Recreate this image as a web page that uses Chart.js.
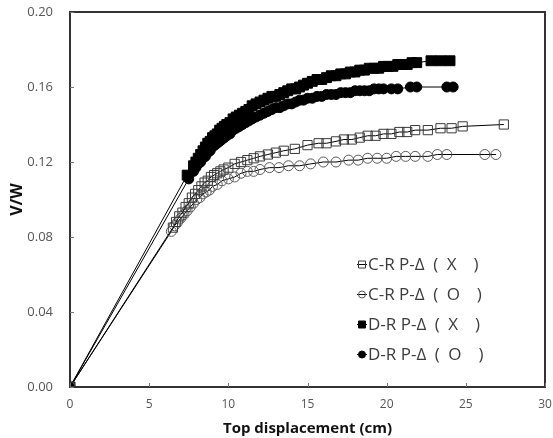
<!DOCTYPE html>
<html>
<head>
<meta charset="utf-8">
<script src="https://cdn.jsdelivr.net/npm/chart.js@4.4.0/dist/chart.umd.min.js"></script>
<style>
  html, body { margin: 0; padding: 0; background: #fff; }
  #wrap { width: 553px; height: 438px; position: relative; }
</style>
</head>
<body>
<div id="wrap"><canvas id="chart"></canvas></div>
<script>
// legend labels (en/em spaces mimic the wide spacing of the original)
var seriesNames = [
  'C-R P-Δ\u2002(\u2002X\u2003)',
  'C-R P-Δ\u2002(\u2002O\u2003)',
  'D-R P-Δ\u2002(\u2002X\u2003)',
  'D-R P-Δ\u2002(\u2002O\u2003)'
];

// axis ticks
var xTicks = [0, 5, 10, 15, 20, 25, 30];
var yTicks = [0.00, 0.04, 0.08, 0.12, 0.16, 0.20];

// C-R P-Δ (X) : open squares
var crXx = [0, 6.5, 6.7, 6.9, 7.1, 7.3, 7.5, 7.7, 7.9, 8.1, 8.3, 8.5, 8.7, 8.9, 9.1, 9.3, 9.5, 9.7, 10.0, 10.4,
  10.8, 11.2, 11.6, 12.0, 12.5, 13.0, 13.5, 14.2, 15.0, 15.7, 16.2, 16.8, 17.3, 17.8, 18.3, 18.8, 19.3, 19.8, 20.3, 20.8,
  21.3, 21.8, 22.6, 23.4, 24.1, 24.8, 27.4];
var crXy = [0, 0.085, 0.088, 0.091, 0.093, 0.096, 0.098, 0.101, 0.103, 0.105, 0.107, 0.109, 0.110, 0.112, 0.113, 0.114, 0.115, 0.116, 0.117, 0.119,
  0.120, 0.121, 0.122, 0.123, 0.124, 0.125, 0.126, 0.127, 0.129, 0.130, 0.130, 0.131, 0.132, 0.132, 0.133, 0.134, 0.134, 0.135, 0.135, 0.136,
  0.136, 0.137, 0.137, 0.138, 0.138, 0.139, 0.140];

// C-R P-Δ (O) : open circles
var crOx = [0, 6.4, 6.6, 6.8, 7.0, 7.2, 7.4, 7.6, 7.8, 8.0, 8.2, 8.4, 8.6, 8.8, 9.0, 9.3, 9.6, 10.0, 10.4, 10.8,
  11.2, 11.6, 12.0, 12.6, 13.2, 13.8, 14.5, 15.2, 16.0, 16.8, 17.6, 18.2, 18.8, 19.4, 20.0, 20.6, 21.2, 21.8, 22.6, 23.2,
  23.8, 26.2, 26.9];
var crOy = [0, 0.083, 0.086, 0.088, 0.090, 0.092, 0.094, 0.096, 0.098, 0.100, 0.101, 0.103, 0.104, 0.105, 0.107, 0.108, 0.110, 0.111, 0.112, 0.114,
  0.115, 0.115, 0.116, 0.117, 0.117, 0.118, 0.118, 0.119, 0.120, 0.120, 0.121, 0.121, 0.122, 0.122, 0.122, 0.123, 0.123, 0.123, 0.123, 0.124,
  0.124, 0.124, 0.124];

// D-R P-Δ (X) : filled squares
var drXx = [0, 7.4, 7.8, 7.95, 8.1, 8.25, 8.4, 8.55, 8.7, 8.85, 9.0, 9.15, 9.3, 9.45, 9.6, 9.75, 9.9, 10.1, 10.3, 10.5,
  10.7, 10.9, 11.1, 11.3, 11.5, 11.75, 12.0, 12.25, 12.5, 12.75, 13.0, 13.25, 13.5, 13.75, 14.0, 14.25, 14.5, 14.75, 15.0, 15.3,
  15.6, 15.9, 16.2, 16.5, 16.8, 17.1, 17.4, 17.7, 18.0, 18.3, 18.6, 18.9, 19.2, 19.5, 19.8, 20.1, 20.4, 20.7, 21.0, 21.3,
  21.6, 21.9, 22.8, 23.4, 24.0];
var drXy = [0, 0.113, 0.118, 0.120, 0.122, 0.124, 0.126, 0.128, 0.130, 0.131, 0.133, 0.134, 0.135, 0.137, 0.138, 0.139, 0.140, 0.141, 0.143, 0.144,
  0.145, 0.146, 0.147, 0.148, 0.150, 0.151, 0.152, 0.153, 0.154, 0.155, 0.155, 0.156, 0.157, 0.158, 0.159, 0.159, 0.160, 0.161, 0.162, 0.163,
  0.164, 0.164, 0.165, 0.166, 0.166, 0.167, 0.167, 0.168, 0.168, 0.169, 0.169, 0.170, 0.170, 0.170, 0.171, 0.171, 0.171, 0.172, 0.172, 0.172,
  0.173, 0.173, 0.174, 0.174, 0.174];

// D-R P-Δ (O) : filled circles
var drOx = [0, 7.5, 7.8, 7.95, 8.1, 8.25, 8.4, 8.55, 8.7, 8.85, 9.0, 9.15, 9.3, 9.45, 9.6, 9.75, 9.9, 10.1, 10.3, 10.5,
  10.7, 10.9, 11.1, 11.3, 11.5, 11.75, 12.0, 12.25, 12.5, 12.75, 13.0, 13.25, 13.5, 13.75, 14.0, 14.25, 14.5, 14.75, 15.0, 15.3,
  15.6, 15.9, 16.2, 16.5, 16.8, 17.1, 17.4, 17.7, 18.0, 18.3, 18.6, 18.9, 19.2, 19.5, 19.8, 20.3, 20.7, 21.5, 21.9, 23.8,
  24.2];
var drOy = [0, 0.111, 0.115, 0.117, 0.119, 0.120, 0.122, 0.123, 0.125, 0.126, 0.128, 0.129, 0.130, 0.131, 0.132, 0.133, 0.134, 0.135, 0.137, 0.138,
  0.139, 0.140, 0.141, 0.142, 0.143, 0.144, 0.145, 0.146, 0.147, 0.148, 0.149, 0.149, 0.150, 0.151, 0.151, 0.152, 0.153, 0.153, 0.154, 0.154,
  0.155, 0.155, 0.156, 0.156, 0.156, 0.157, 0.157, 0.157, 0.158, 0.158, 0.158, 0.158, 0.159, 0.159, 0.159, 0.159, 0.159, 0.160, 0.160, 0.160,
  0.160];

function toPoints(xs, ys) {
  return xs.map(function (x, i) { return { x: x, y: ys[i] }; });
}

var markers = [
  { style: 'rect', radius: 6.5, fill: 'rgba(0,0,0,0)', stroke: '#3a3a3a' },
  { style: 'circle', radius: 5, fill: 'rgba(0,0,0,0)', stroke: '#5a5a5a' },
  { style: 'rect', radius: 7, fill: '#000', stroke: '#000' },
  { style: 'circle', radius: 5, fill: '#000', stroke: '#000' }
];
var allX = [crXx, crOx, drXx, drOx];
var allY = [crXy, crOy, drXy, drOy];

var datasets = seriesNames.map(function (name, i) {
  return {
    label: name,
    data: toPoints(allX[i], allY[i]),
    showLine: true,
    borderColor: '#000',
    borderWidth: 1,
    pointStyle: markers[i].style,
    pointRadius: markers[i].radius,
    pointBorderWidth: 1,
    pointBackgroundColor: markers[i].fill,
    pointBorderColor: markers[i].stroke,
    tension: 0
  };
});

// frame, inside ticks and the legend placed in the plot
var framePlugin = {
  id: 'frame',
  afterDraw: function (chart) {
    var ctx = chart.ctx;
    var a = chart.chartArea;
    var xs = chart.scales.x, ys = chart.scales.y;
    ctx.save();
    ctx.strokeStyle = '#333';
    ctx.lineWidth = 2;
    ctx.strokeRect(a.left, a.top, a.right - a.left, a.bottom - a.top);
    ctx.lineWidth = 1;
    ctx.strokeStyle = '#777';
    xTicks.forEach(function (v) {
      var px = Math.round(xs.getPixelForValue(v)) + 0.5;
      ctx.beginPath(); ctx.moveTo(px, a.bottom); ctx.lineTo(px, a.bottom - 4); ctx.stroke();
    });
    yTicks.forEach(function (v) {
      var py = Math.round(ys.getPixelForValue(v)) + 0.5;
      ctx.beginPath(); ctx.moveTo(a.left, py); ctx.lineTo(a.left + 4, py); ctx.stroke();
    });

    // legend
    var lx = 362, ly = 264, step = 30;
    chart.data.datasets.forEach(function (ds, i) {
      var y = ly + i * step;
      var m = markers[i];
      ctx.strokeStyle = '#000';
      ctx.lineWidth = 1;
      ctx.beginPath(); ctx.moveTo(lx - 5, y + 0.5); ctx.lineTo(lx + 5, y + 0.5); ctx.stroke();
      ctx.fillStyle = m.fill;
      ctx.strokeStyle = m.stroke;
      ctx.beginPath();
      if (m.style === 'rect') {
        ctx.rect(lx - 3.5, y - 3, 7, 7);
      } else {
        ctx.arc(lx, y + 0.5, 3.5, 0, Math.PI * 2);
      }
      ctx.fill(); ctx.stroke();
      ctx.fillStyle = '#3c3c3c';
      ctx.font = '17px "Open Sans", sans-serif';
      ctx.textBaseline = 'middle';
      ctx.textAlign = 'left';
      ctx.fillText(ds.label, lx + 6, y + 1);
    });
    ctx.restore();
  }
};

new Chart(document.getElementById('chart'), {
  type: 'scatter',
  data: { datasets: datasets },
  options: {
    responsive: true,
    maintainAspectRatio: false,
    animation: false,
    layout: { padding: { top: 12, right: 6, left: 0, bottom: 0 } },
    plugins: {
      legend: { display: false },
      tooltip: { enabled: false }
    },
    scales: {
      x: {
        type: 'linear',
        min: 0,
        max: 30,
        afterFit: function (s) { s.height = 51; s.paddingLeft = 0; s.paddingRight = 0; },
        afterBuildTicks: function (s) { s.ticks = xTicks.map(function (v) { return { value: v }; }); },
        grid: { display: false, drawTicks: false },
        border: { display: false },
        ticks: {
          padding: 10,
          color: '#555',
          font: { family: 'Open Sans', size: 12 }
        },
        title: {
          display: true,
          text: 'Top displacement (cm)',
          color: '#111',
          padding: { top: 0, bottom: 0 },
          font: { family: 'Open Sans', size: 15, weight: 'bold' }
        }
      },
      y: {
        type: 'linear',
        min: 0,
        max: 0.2,
        afterFit: function (s) { s.width = 70; s.paddingTop = 0; s.paddingBottom = 0; },
        afterBuildTicks: function (s) { s.ticks = yTicks.map(function (v) { return { value: v }; }); },
        grid: { display: false, drawTicks: false },
        border: { display: false },
        ticks: {
          padding: 17,
          color: '#555',
          font: { family: 'Open Sans', size: 13 },
          callback: function (v) { return Number(v).toFixed(2); }
        },
        title: {
          display: true,
          text: 'V/W',
          color: '#111',
          padding: { top: 8, bottom: 0 },
          font: { family: 'Open Sans', size: 16, weight: 'bold' }
        }
      }
    }
  },
  plugins: [framePlugin]
});
</script>
</body>
</html>
